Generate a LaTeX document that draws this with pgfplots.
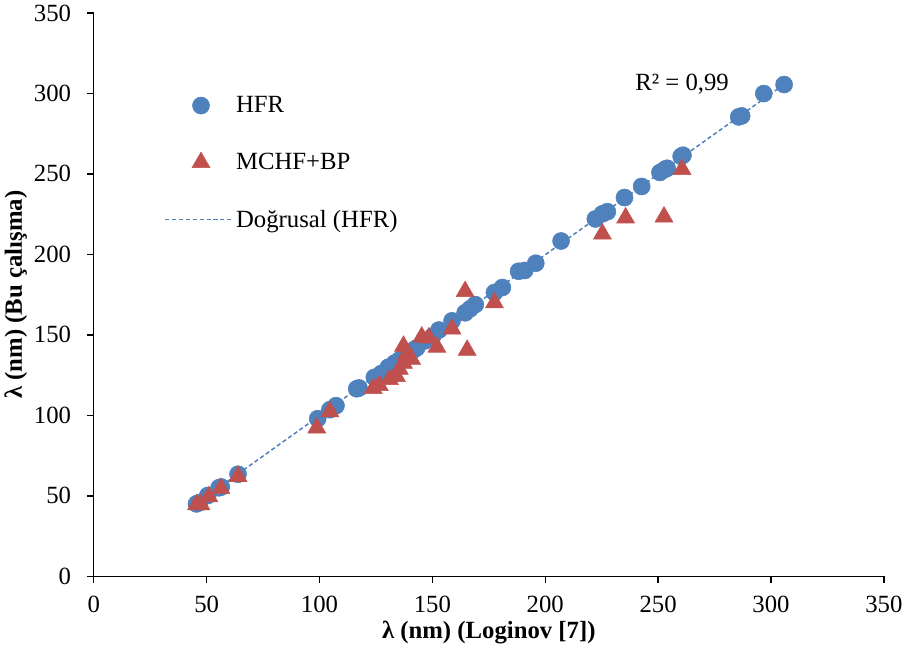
\documentclass[border=0pt]{standalone}
\usepackage{pgfplots}
\pgfplotsset{compat=1.18}
\usepackage{fontspec}
\setmainfont{Liberation Serif}
\definecolor{hfrblue}{HTML}{4F81BD}
\definecolor{mchfred}{HTML}{C0504D}
\pgfplotsset{
  markleg/.style={legend image code/.code={\draw[##1] plot coordinates {(26pt,0pt)};}},
  lineleg/.style={legend image code/.code={\draw[##1] (0pt,0pt) -- (49pt,0pt);}},
}
\begin{document}
\begin{tikzpicture}
\begin{axis}[
    scale only axis,
    width=575pt, height=410pt,
    xmin=0, xmax=350, ymin=0, ymax=350,
    xtick distance=50, ytick distance=50,
    axis x line*=bottom, axis y line*=left,
    axis line style={line width=1pt},
    tick align=outside,
    major tick length=5pt,
    tick style={line width=1pt, black},
    /pgf/number format/assume math mode=true,
    ticklabel style={font=\fontsize{18}{20}\selectfont},
    xticklabel style={yshift=-6pt},
    yticklabel style={xshift=-8pt},
    xlabel={\textbf{λ (nm) (Loginov [7])}},
    ylabel={\textbf{λ (nm) (Bu çalışma)}},
    label style={font=\fontsize{18}{20}\selectfont},
    xlabel style={yshift=1pt},
    ylabel style={yshift=-2pt},
    legend style={draw=none, fill=none, at={(0.084,0.862)}, anchor=north west,
        font=\fontsize{18}{20}\selectfont, row sep=24pt,
        /tikz/every even column/.append style={column sep=7pt}},
    legend cell align=left,
]
\addplot[only marks, mark=*, mark size=6.2pt, mark options={draw=hfrblue, fill=hfrblue}, markleg]
coordinates {
(46.9,45.8) (45.5,45.0) (50.5,50.2) (55.5,55.0) (56.5,55.5) (63.9,63.4)
(99.2,97.9) (104.6,103.5) (107.3,106) (116.5,116.5) (117.5,117)
(124.3,123.6) (127.4,126) (130.5,129.9) (133.2,132.4) (135.5,134.5)
(137.5,136.5) (139.5,138.5) (141.5,140.5) (143,141.8) (146.6,146.2)
(150.2,149.3) (152.9,153) (158.7,158.7) (164.5,163.7) (166.7,166.2)
(169,168.8) (177.5,176.3) (181,179.4) (188.2,189.5) (190.9,190)
(195.8,194.5) (207,208.3) (222.2,222) (225.3,225.2) (227.5,226.5)
(235.1,235.3) (242.7,242.2) (250.8,250.9) (253,252.8) (254,253.5)
(260.2,260.9) (261,261.6) (285.7,285.4) (287,286) (296.8,299.9) (305.8,305.5)
};
\addlegendentry{HFR}
\addplot[only marks, mark=triangle*, mark size=7.5pt, mark options={draw=mchfred, fill=mchfred}, markleg]
coordinates {
(45.5,44.5) (47.5,44.5) (51,49.5) (56.3,54.6) (63.9,62.1) (98.8,92.2)
(104.6,102.3) (123.8,116.7) (126.5,118.6) (131,122.3) (134.1,124.2)
(135.4,128.6) (137.2,132.4) (138.6,138) (137.2,143) (140.8,134.9)
(145.3,148.7) (148.4,148.1) (152,142.4) (158.7,153.7) (164.5,177)
(165.4,140.5) (177.5,170) (225.3,212.7) (235.6,222.7) (252.6,223.3)
(260.6,252.8)
};
\addlegendentry{MCHF+BP}
\addplot[hfrblue, line width=1.1pt, dash pattern=on 3pt off 2pt, lineleg]
coordinates {(44,43.7) (306,305.8)};
\addlegendentry{Doğrusal (HFR)}
\node[font=\fontsize{18}{20}\selectfont] at (axis cs:260.6,306) {R² = 0,99};
\end{axis}
\end{tikzpicture}
\end{document}
